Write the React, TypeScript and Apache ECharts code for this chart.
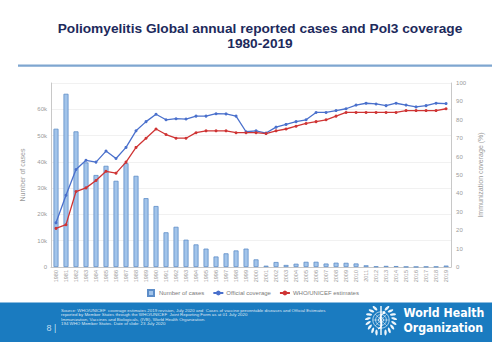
import React, { useEffect, useRef } from "react";
import * as echarts from "echarts";

// Calendar years on the category axis
const years = [
  "1980", "1981", "1982", "1983", "1984", "1985", "1986", "1987", "1988", "1989",
  "1990", "1991", "1992", "1993", "1994", "1995", "1996", "1997", "1998", "1999",
  "2000", "2001", "2002", "2003", "2004", "2005", "2006", "2007", "2008", "2009",
  "2010", "2011", "2012", "2013", "2014", "2015", "2016", "2017", "2018", "2019",
];

// Reported polio cases per year (left axis)
const reportedCases = [
  52600, 65900, 51600, 39800, 35000, 38500, 32800, 39500, 34700, 26200,
  23200, 13200, 15300, 10400, 8600, 7000, 4000, 5200, 6300, 7000,
  2900, 500, 1900, 780, 1250, 1980, 2000, 1320, 1650, 1600,
  1350, 650, 220, 420, 360, 100, 80, 120, 140, 540,
];

// Pol3 coverage as reported officially by countries (%)
const officialCoverage = [
  24, 39, 53, 58, 57, 63, 59, 65, 74, 79,
  83, 80, 80.6, 80.4, 82, 82, 83.3, 83.2, 82, 73.5,
  74, 72.8, 76, 77.5, 79, 80, 84, 84, 85, 86,
  88, 89, 88.6, 87.7, 89, 88, 87, 87.7, 89, 88.8,
];

// WHO/UNICEF estimated Pol3 coverage (%)
const whoUnicefEstimates = [
  21, 23, 41, 43, 47, 52, 51, 57, 65, 70,
  75, 72, 70, 70, 73, 74, 74, 74, 73, 73,
  73, 72.5, 74, 75, 76.5, 78, 79, 80, 82, 84,
  84, 84, 84, 84, 84, 85, 85, 85, 85, 86,
];

const caseTicks = ["0", "10k", "20k", "30k", "40k", "50k", "60k", ""];

const titleLines = [
  "Poliomyelitis Global annual reported cases and Pol3 coverage",
  "1980-2019",
];

const sourceLines = [
  "Source: WHO/UNICEF  coverage estimates 2019 revision, July 2020 and  Cases of vaccine preventable diseases and Official Estimates",
  "reported by Member States through the WHO/UNICEF  Joint Reporting Form as at 01 July 2020",
  "Immunization, Vaccines and Biologicals, (IVB), World Health Organization.",
  "194 WHO Member States. Date of slide: 23 July 2020",
];

const SANS = "'Liberation Sans', Arial, sans-serif";
const AXIS_GREY = "#9a9a9a";
const BAR_BLUE = "#a2c4ea";
const BAR_EDGE = "#5d8dc8";
const LINE_BLUE = "#4a70cc";
const LINE_RED = "#cf3434";
const FOOTER_BLUE = "#1a7bc0";

function emblem(): any[] {
  const els: any[] = [];
  const white = "rgba(255,255,255,0.92)";
  // laurel leaves on both sides
  for (let side = -1; side <= 1; side += 2) {
    for (let k = 0; k < 8; k++) {
      const a = (-70 + k * 19) * (Math.PI / 180);
      const r = 13.2;
      const x = side * r * Math.cos(a);
      const y = -r * Math.sin(a);
      els.push({
        type: "ellipse",
        x,
        y,
        rotation: side > 0 ? a + Math.PI / 2.6 : -a - Math.PI / 2.6,
        shape: { cx: 0, cy: 0, rx: 1.2, ry: 3 },
        style: { fill: white },
      });
    }
  }
  // globe with parallels and meridians
  [8.2, 5.4, 2.6].forEach((r) =>
    els.push({
      type: "circle",
      shape: { cx: 0, cy: 0, r },
      style: { fill: "none", stroke: white, lineWidth: 0.7 },
    })
  );
  for (let k = 0; k < 8; k++) {
    const a = (k * Math.PI) / 4;
    els.push({
      type: "line",
      shape: { x1: 0, y1: 0, x2: 8.2 * Math.cos(a), y2: 8.2 * Math.sin(a) },
      style: { stroke: white, lineWidth: 0.5 },
    });
  }
  // staff and serpent
  els.push({
    type: "line",
    shape: { x1: 0, y1: -14, x2: 0, y2: 15 },
    style: { stroke: "#ffffff", lineWidth: 1.4 },
  });
  els.push({
    type: "bezierCurve",
    shape: { x1: -3, y1: 9, x2: 3, y2: -7, cpx1: 7, cpy1: 4, cpx2: -7, cpy2: -2 },
    style: { stroke: "#ffffff", lineWidth: 1.3, fill: "none" },
  });
  els.push({
    type: "circle",
    shape: { cx: 3, cy: -7.5, r: 1.4 },
    style: { fill: "#ffffff" },
  });
  return els;
}

export default function App() {
  const ref = useRef<HTMLDivElement>(null);

  useEffect(() => {
    document.body.style.margin = "0";
    if (!ref.current) return;
    const chart = echarts.init(ref.current, undefined, { renderer: "svg" });

    const orgText = (text: string, y: number) => ({
      type: "text",
      x: 403.5,
      y,
      style: {
        text,
        fontFamily: "'DejaVu Sans Condensed', 'DejaVu Sans', sans-serif",
        fontWeight: "bold",
        fontSize: 12.2,
        fill: "#ffffff",
        textVerticalAlign: "middle",
      },
    });

    const option: any = {
      animation: false,
      backgroundColor: "#ffffff",
      textStyle: { fontFamily: SANS },
      grid: { left: 51, right: 30, top: 83, bottom: 75, containLabel: false },
      legend: {
        left: 147,
        top: 289,
        padding: 0,
        itemGap: 8,
        itemWidth: 10,
        itemHeight: 6,
        textStyle: { fontSize: 6, color: "#7a7a7a", fontFamily: SANS, padding: [0, 0, 0, -2] },
        data: [
          { name: "Number of cases", icon: "path://M0,0H10V10H0Z" },
          { name: "Official coverage" },
          { name: "WHO/UNICEF estimates" },
        ],
      },
      xAxis: {
        type: "category",
        data: years,
        axisLine: { lineStyle: { color: "#c8c8c8" } },
        axisTick: { show: false },
        axisLabel: {
          rotate: 90,
          interval: 0,
          fontSize: 5.5,
          color: AXIS_GREY,
          margin: 3,
        },
      },
      yAxis: [
        {
          type: "value",
          position: "left",
          min: 0,
          max: 70000,
          interval: 10000,
          name: "Number of cases",
          nameLocation: "middle",
          nameRotate: 90,
          nameGap: 19,
          nameTextStyle: { fontSize: 7, color: AXIS_GREY },
          axisLine: { show: true, lineStyle: { color: "#c8c8c8" } },
          axisTick: { show: false },
          axisLabel: {
            fontSize: 6,
            color: AXIS_GREY,
            margin: 4,
            formatter: (v: number) => caseTicks[Math.round(v / 10000)] ?? "",
          },
          splitLine: { lineStyle: { color: "#f1f1f1", width: 1 } },
        },
        {
          type: "value",
          position: "right",
          min: 0,
          max: 100,
          interval: 10,
          name: "Immunization coverage (%)",
          nameLocation: "middle",
          nameRotate: 90,
          nameGap: 18,
          nameTextStyle: { fontSize: 7, color: AXIS_GREY },
          axisLine: { show: true, lineStyle: { color: "#c8c8c8" } },
          axisTick: { show: false },
          axisLabel: { fontSize: 6, color: AXIS_GREY, margin: 5 },
          splitLine: { show: false },
        },
      ],
      series: [
        {
          name: "Number of cases",
          type: "bar",
          yAxisIndex: 0,
          data: reportedCases,
          barWidth: 5,
          itemStyle: { color: BAR_BLUE, borderColor: BAR_EDGE, borderWidth: 0.8 },
        },
        {
          name: "Official coverage",
          type: "line",
          yAxisIndex: 1,
          data: officialCoverage,
          symbol: "circle",
          symbolSize: 3,
          lineStyle: { color: LINE_BLUE, width: 1.3 },
          itemStyle: { color: LINE_BLUE },
        },
        {
          name: "WHO/UNICEF estimates",
          type: "line",
          yAxisIndex: 1,
          data: whoUnicefEstimates,
          symbol: "circle",
          symbolSize: 3,
          lineStyle: { color: LINE_RED, width: 1.3 },
          itemStyle: { color: LINE_RED },
        },
      ],
      graphic: [
        {
          type: "text",
          x: 260,
          y: 28,
          style: {
            text: titleLines[0],
            fontFamily: SANS,
            fontWeight: "bold",
            fontSize: 13.7,
            fill: "#1d2a5c",
            textAlign: "center",
            textVerticalAlign: "middle",
          },
        },
        {
          type: "text",
          x: 260,
          y: 43.5,
          style: {
            text: titleLines[1],
            fontFamily: SANS,
            fontWeight: "bold",
            fontSize: 13.7,
            fill: "#1d2a5c",
            textAlign: "center",
            textVerticalAlign: "middle",
          },
        },
        {
          type: "rect",
          shape: { x: 18, y: 64.5, width: 474, height: 2.2 },
          style: { fill: "#7ea6d0" },
        },
        {
          type: "rect",
          shape: { x: 0, y: 302.5, width: 492, height: 40 },
          style: { fill: FOOTER_BLUE },
        },
        ...sourceLines.map((t, i) => ({
          type: "text",
          x: 61,
          y: 310 + i * 4.6,
          style: {
            text: t,
            fontFamily: SANS,
            fontSize: 4.4,
            fill: "rgba(255,255,255,0.85)",
            textVerticalAlign: "middle",
          },
        })),
        {
          type: "text",
          x: 46.5,
          y: 328,
          style: {
            text: "8 |",
            fontFamily: SANS,
            fontSize: 9,
            fill: "rgba(215,232,246,0.9)",
            textVerticalAlign: "middle",
          },
        },
        {
          type: "group",
          x: 381,
          y: 320,
          children: emblem(),
        },
        orgText("World Health", 313.3),
        orgText("Organization", 327.8),
      ],
    };

    chart.setOption(option);
    return () => chart.dispose();
  }, []);

  return <div ref={ref} style={{ width: 492, height: 342 }} />;
}
